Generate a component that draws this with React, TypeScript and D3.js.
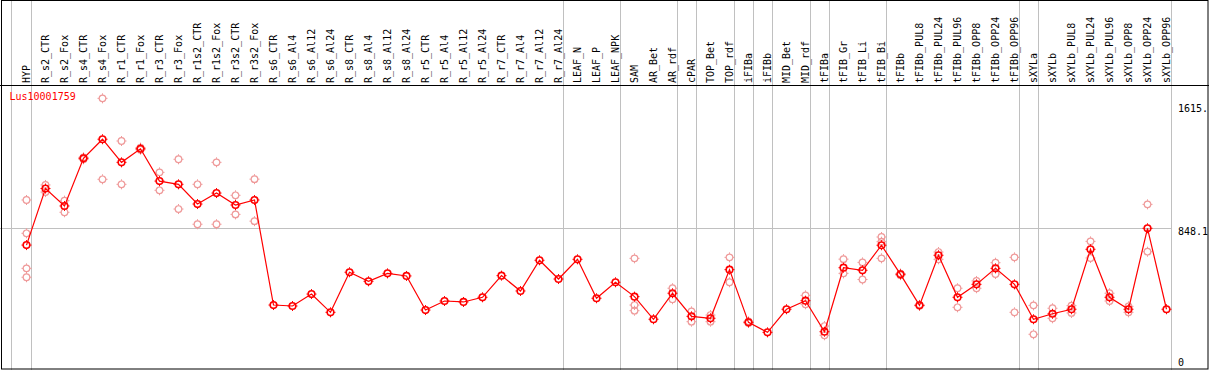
import React from "react";
import * as d3 from "d3";

const categories: string[] = [
  "HYP", "R_s2_CTR", "R_s2_Fox", "R_s4_CTR", "R_s4_Fox", "R_r1_CTR", "R_r1_Fox", "R_r3_CTR", "R_r3_Fox",
  "R_r1s2_CTR", "R_r1s2_Fox", "R_r3s2_CTR", "R_r3s2_Fox", "R_s6_CTR", "R_s6_Al4", "R_s6_Al12", "R_s6_Al24",
  "R_s8_CTR", "R_s8_Al4", "R_s8_Al12", "R_s8_Al24", "R_r5_CTR", "R_r5_Al4", "R_r5_Al12", "R_r5_Al24",
  "R_r7_CTR", "R_r7_Al4", "R_r7_Al12", "R_r7_Al24", "LEAF_N", "LEAF_P", "LEAF_NPK", "SAM", "AR_Bet", "AR_rdf",
  "cPAR", "TOP_Bet", "TOP_rdf", "iFIBa", "iFIBb", "MID_Bet", "MID_rdf", "tFIBa", "tFIB_Gr", "tFIB_Li", "tFIB_Bi",
  "tFIBb", "tFIBb_PUL8", "tFIBb_PUL24", "tFIBb_PUL96", "tFIBb_OPP8", "tFIBb_OPP24", "tFIBb_OPP96",
  "sXYLa", "sXYLb", "sXYLb_PUL8", "sXYLb_PUL24", "sXYLb_PUL96", "sXYLb_OPP8", "sXYLb_OPP24", "sXYLb_OPP96",
];

const means: number[] = [
  742, 1092, 984, 1279, 1397, 1254, 1338, 1138, 1118, 996, 1064, 990, 1021,
  371, 365, 439, 326, 574, 518, 567, 551, 340, 396, 390, 419, 553, 458, 648, 532,
  654, 413, 512, 423, 283, 444, 301, 289, 590, 264, 202, 345, 398, 206,
  602, 586, 741, 561, 369, 679, 419, 499, 598, 499,
  283, 317, 345, 716, 419, 345, 846, 345,
];

const replicates: number[][] = [
  [1021, 815, 598, 543], [1114, 1070], [1017, 945], [1285, 1273], [1650, 1149], [1386, 1118], [1345, 1332],
  [1192, 1081], [1273, 965], [1118, 871], [1254, 871], [1050, 932], [1150, 890],
  [], [], [], [], [], [], [], [], [], [], [], [], [], [], [], [],
  [], [], [], [660, 371, 336], [], [475, 407], [332, 268], [309, 268], [666, 512], [260, 270], [], [], [431, 376], [241, 184],
  [655, 567], [635, 529], [792, 763, 660], [566, 556], [372, 366], [699, 654], [475, 357], [520, 475], [633, 563], [666, 326],
  [369, 190], [351, 289], [367, 322], [765, 662], [444, 396], [363, 326], [994, 701], [],
];

const groupEnds: number[] = [0, 28, 31, 34, 35, 37, 38, 39, 41, 42, 45, 52, 53, 60];
const yTickValues: number[] = [1615, 848.1, 0];
const yTickLabels: string[] = ["1615.", "848.1", "0"];
const geneName = "Lus10001759";

const W = 1209;
const H = 370;
const FONT = "'DejaVu Sans Mono', monospace";

export default function App() {
  const x = d3.scalePoint<string>().domain(categories).range([26.5, 1166.5]);
  const y = d3.scaleLinear().domain([0, 1615]).range([365, 104]);
  const line = d3
    .line<number>()
    .x((_, i) => x(categories[i]) as number)
    .y((d) => y(d));

  const ticks = "M0,-5V-3.5M0,3.5V5M-5,0H-3.5M3.5,0H5";

  const sepXs = [ (x(categories[0]) as number) - 15.5, ...groupEnds.map((i) => (x(categories[i]) as number) + 4.5) ];

  return (
    <svg
      width={W}
      height={H}
      style={{ position: "absolute", left: 0, top: 0, background: "#fff" }}
      shapeRendering="auto"
    >
      <rect x={0} y={0} width={W} height={H} fill="#fff" />
      {/* horizontal reference line */}
      <line x1={0} x2={1171} y1={Math.round(y(848.1)) + 0.5} y2={Math.round(y(848.1)) + 0.5} stroke="#c0c0c0" strokeWidth={1} />
      {/* group separator lines */}
      {sepXs.map((sx, i) => (
        <line key={i} x1={Math.round(sx) + 0.5} x2={Math.round(sx) + 0.5} y1={0} y2={H} stroke="#c0c0c0" strokeWidth={1} />
      ))}
      {/* header separator */}
      <line x1={0} x2={W} y1={85.5} y2={85.5} stroke="#000" strokeWidth={1} />
      {/* border */}
      <rect x={1.5} y={0.5} width={W - 2.5} height={H - 1.5} fill="none" stroke="#000" strokeWidth={1} />

      {/* category labels */}
      {categories.map((c) => {
        const cx = (x(c) as number) + 3.5;
        return (
          <text
            key={c}
            transform={`translate(${cx},83) rotate(-90)`}
            fontFamily={FONT}
            fontSize={10}
            fill="#000"
          >
            {c}
          </text>
        );
      })}

      {/* y tick labels */}
      {yTickValues.map((v, i) => (
        <text
          key={i}
          x={1178}
          y={Math.min(y(v) + 7.5, 366)}
          fontFamily={FONT}
          fontSize={10}
          fill="#000"
        >
          {yTickLabels[i]}
        </text>
      ))}

      <text x={9.5} y={100} fontFamily={FONT} fontSize={10} fill="#ff0000">
        {geneName}
      </text>

      {/* replicate points */}
      {replicates.map((reps, i) =>
        reps.map((v, j) => (
          <g key={`${i}-${j}`} transform={`translate(${x(categories[i])},${y(v)})`}>
            <circle r={3.3} fill="none" stroke="#ef9a9a" strokeWidth={1.2} />
            <path d={ticks} stroke="#ef9a9a" strokeWidth={1} />
          </g>
        ))
      )}

      {/* mean line */}
      <path d={line(means) || ""} fill="none" stroke="#ff0000" strokeWidth={1.2} />

      {/* mean points */}
      {means.map((v, i) => (
        <g key={i} transform={`translate(${x(categories[i])},${y(v)})`}>
          <circle r={3.3} fill="none" stroke="#ff0000" strokeWidth={1.6} />
          <path d={ticks} stroke="#ff0000" strokeWidth={1} />
        </g>
      ))}
    </svg>
  );
}
